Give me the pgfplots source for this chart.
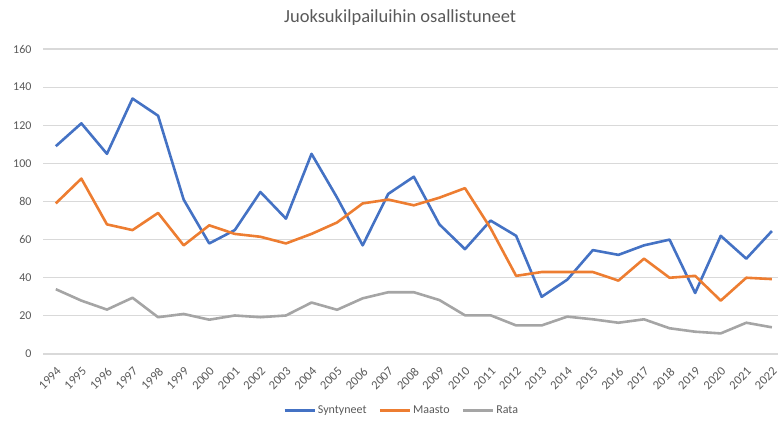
\documentclass[border=0pt]{standalone}
\usepackage{pgfplots}
\pgfplotsset{compat=1.18}
\usepackage{fontspec}
\setmainfont{Carlito}
\definecolor{cblue}{HTML}{4472C4}
\definecolor{corange}{HTML}{ED7D31}
\definecolor{cgray}{HTML}{A5A5A5}
\definecolor{ctext}{HTML}{595959}
\definecolor{cgrid}{HTML}{D9D9D9}
\begin{document}
\begin{tikzpicture}
\useasboundingbox (0,0) rectangle (778bp,421bp);
\begin{axis}[
  at={(43bp,67bp)}, anchor=south west,
  scale only axis, width=735bp, height=305bp,
  xmin=1993.5, xmax=2022.24,
  ymin=0, ymax=160,
  ytick={0,20,...,160},
  xtick={1994,...,2022},
  /pgf/number format/assume math mode=true,
  xticklabel={\pgfmathprintnumber[set thousands separator={}]{\tick}},
  x tick label style={xshift=0bp, yshift=-11bp, rotate=45, anchor=north east, font=\fontsize{12.5bp}{13bp}\selectfont, text=ctext, inner sep=1bp},
  y tick label style={font=\fontsize{12bp}{13bp}\selectfont, text=ctext, xshift=-8bp},
  major tick length=0pt,
  axis line style={draw=none},
  ymajorgrids, grid style={cgrid, line width=1.2bp},
  title={Juoksukilpailuihin osallistuneet},
  title style={at={(0.486,1.085)}, anchor=center, font=\fontsize{18.5bp}{20bp}\selectfont, text=ctext},
  legend columns=3,
  legend style={at={(0.488,-0.185)}, anchor=center, draw=none, fill=none,
    font=\fontsize{12bp}{13bp}\selectfont, text=ctext,
    /tikz/every even column/.append style={column sep=10bp}},
  legend image code/.code={\draw[#1, line width=2.6bp] (0bp,0bp) -- (30bp,0bp);},
  every axis plot/.append style={line width=2.6bp, line join=round, mark=none},
]
\addplot[cblue] coordinates {
(1994,109) (1995,121) (1996,105) (1997,134) (1998,125) (1999,81) (2000,58) (2001,65)
(2002,85) (2003,71) (2004,105) (2005,82) (2006,57) (2007,84) (2008,93) (2009,68)
(2010,55) (2011,70) (2012,62) (2013,30) (2014,39) (2015,54.5) (2016,52) (2017,57)
(2018,60) (2019,32) (2020,62) (2021,50) (2022,64.5)};
\addlegendentry{Syntyneet}
\addplot[corange] coordinates {
(1994,79) (1995,92) (1996,68) (1997,65) (1998,74) (1999,57) (2000,67.5) (2001,63)
(2002,61.5) (2003,58) (2004,63) (2005,69) (2006,79) (2007,81) (2008,78) (2009,82)
(2010,87) (2011,66) (2012,41) (2013,43) (2014,43) (2015,43) (2016,38.5) (2017,50)
(2018,40) (2019,41) (2020,28) (2021,40) (2022,39.3)};
\addlegendentry{Maasto}
\addplot[cgray] coordinates {
(1994,34) (1995,28) (1996,23.3) (1997,29.5) (1998,19.3) (1999,21) (2000,18) (2001,20.2)
(2002,19.3) (2003,20.2) (2004,27) (2005,23.2) (2006,29.2) (2007,32.4) (2008,32.4) (2009,28.3)
(2010,20.3) (2011,20.3) (2012,15) (2013,15) (2014,19.6) (2015,18.2) (2016,16.4) (2017,18.2)
(2018,13.5) (2019,11.7) (2020,10.8) (2021,16.4) (2022,14)};
\addlegendentry{Rata}
\end{axis}
\end{tikzpicture}
\end{document}
